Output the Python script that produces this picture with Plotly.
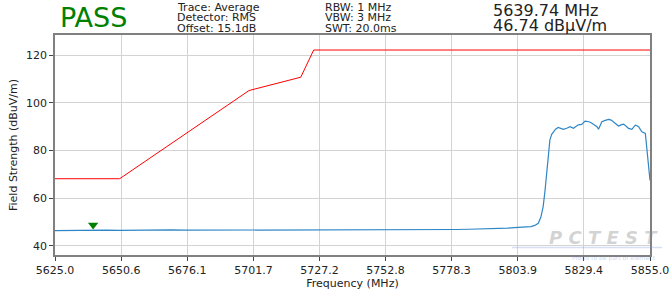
import plotly.graph_objects as go

# ---------------- data ----------------
trace_freq = [5625, 5630, 5635, 5640, 5645, 5650, 5655, 5660, 5665, 5670, 5675, 5680,
              5685, 5690, 5695, 5700, 5705, 5710, 5715, 5720, 5725, 5730, 5735, 5740,
              5745, 5750, 5755, 5760, 5765, 5770, 5775, 5780, 5785, 5790, 5795, 5800,
              5804, 5807, 5809, 5810.5, 5811.8, 5812.8, 5813.7, 5814.4, 5815.0, 5815.7,
              5816.3, 5817.0, 5817.6, 5818.5, 5819.5, 5820.5, 5821.5, 5822.8, 5824.1,
              5825.4, 5826.3, 5827.3, 5828.6, 5829.9, 5831.0, 5831.9, 5833.0, 5833.8,
              5834.5, 5835.1, 5835.8, 5836.4, 5837.7, 5839.0, 5840.0, 5840.9, 5841.8,
              5842.8, 5843.8, 5844.8, 5845.8, 5846.7, 5848.0, 5848.7, 5849.3, 5850.0,
              5850.6, 5851.3, 5851.9, 5853.2, 5853.8, 5854.4, 5855.0]
trace_level = [46.4, 46.5, 46.6, 46.7, 46.6, 46.5, 46.6, 46.5, 46.6, 46.7, 46.6, 46.6,
               46.7, 46.6, 46.7, 46.8, 46.7, 46.7, 46.6, 46.7, 46.7, 46.6, 46.7, 46.6,
               46.7, 46.7, 46.6, 46.7, 46.8, 46.8, 46.9, 46.9, 47.0, 47.1, 47.3, 47.5,
               47.8, 47.9, 48.1, 48.6, 49.5, 52.0, 56.5, 63.0, 70.4, 78.0,
               84.4, 86.8, 87.9, 89.0, 89.7, 89.3, 88.9, 89.4, 90.0,
               89.4, 90.2, 90.8, 91.0, 92.4, 92.2, 91.9, 91.2, 90.7,
               90.0, 89.0, 91.0, 92.1, 92.7, 93.1, 92.8, 92.1, 91.2,
               90.3, 90.8, 91.1, 90.2, 89.3, 88.9, 90.0, 90.7, 90.4,
               90.0, 88.8, 87.9, 87.2, 80.2, 74.0, 67.5]

limit_freq = [5625, 5650, 5700, 5720, 5725, 5855]
limit_level = [68.2, 68.2, 105.2, 110.8, 122.2, 122.2]

marker_freq = 5639.74
marker_level = 46.74

x_ticks = [5625.0, 5650.6, 5676.1, 5701.7, 5727.2, 5752.8, 5778.3, 5803.9, 5829.4, 5855.0]
x_tick_labels = ["5625.0", "5650.6", "5676.1", "5701.7", "5727.2", "5752.8",
                 "5778.3", "5803.9", "5829.4", "5855.0"]
y_ticks = [40, 60, 80, 100, 120]

verdict = "PASS"
info_col1 = ["Trace: Average", "Detector: RMS", "Offset: 15.1dB"]
info_col2 = ["RBW: 1 MHz", "VBW: 3 MHz", "SWT: 20.0ms"]
readout = ["5639.74 MHz", "46.74 dBµV/m"]

# ---------------- layout helpers ----------------
W, H = 669, 292
SL, SR, ST, SB = 55, 650, 35, 255          # plot area in screen pixels
L, T = SL, ST
R = W - SR
B = H - SB
PW, PH = SR - SL, SB - ST


def px(x):
    return (x - SL) / PW


def py(y):
    return (SB - y) / PH


FONT = "DejaVu Sans"

fig = go.Figure()
fig.add_trace(go.Scatter(x=limit_freq, y=limit_level, mode="lines",
                         line=dict(color="#ff0000", width=1), showlegend=False,
                         hoverinfo="skip"))
fig.add_trace(go.Scatter(x=trace_freq, y=trace_level, mode="lines",
                         line=dict(color="#2f86c6", width=1.2), showlegend=False))
fig.add_trace(go.Scatter(x=[marker_freq], y=[marker_level + 2.0], mode="markers",
                         marker=dict(symbol="triangle-down", size=9, color="#008000"),
                         showlegend=False))

ann = []
ann.append(dict(x=px(93), y=py(18), text=verdict, showarrow=False,
                xref="paper", yref="paper", xanchor="center", yanchor="middle",
                font=dict(family=FONT, size=27, color="#008000")))
for i, t in enumerate(info_col1):
    ann.append(dict(x=px(175), y=py(7.5 + 10.5 * i), text=t, showarrow=False,
                    xref="paper", yref="paper", xanchor="left", yanchor="middle",
                    font=dict(family=FONT, size=11, color="#222")))
for i, t in enumerate(info_col2):
    ann.append(dict(x=px(323), y=py(7.5 + 10.5 * i), text=t, showarrow=False,
                    xref="paper", yref="paper", xanchor="left", yanchor="middle",
                    font=dict(family=FONT, size=11, color="#222")))
for i, t in enumerate(readout):
    ann.append(dict(x=px(491), y=py(11 + 14 * i), text=t, showarrow=False,
                    xref="paper", yref="paper", xanchor="left", yanchor="middle",
                    font=dict(family=FONT, size=16, color="#222")))
# watermark
ann.append(dict(x=px(603), y=py(237), text="<b><i>P C T E S T</i></b>", showarrow=False,
                xref="paper", yref="paper", xanchor="center", yanchor="middle",
                font=dict(family=FONT, size=18, color="rgba(140,140,140,0.38)")))
ann.append(dict(x=px(614), y=py(257.5), text="Proud to be part of element", showarrow=False,
                xref="paper", yref="paper", xanchor="center", yanchor="middle",
                font=dict(family=FONT, size=6, color="rgba(120,150,220,0.4)")))

shapes = [dict(type="line", xref="paper", yref="paper", x0=px(512), x1=px(662),
               y0=py(247.5), y1=py(247.5),
               line=dict(color="rgba(120,150,220,0.3)", width=1.5))]

fig.update_layout(
    width=W, height=H,
    margin=dict(l=L, r=R, t=T, b=B, pad=0, autoexpand=False),
    paper_bgcolor="white", plot_bgcolor="white",
    font=dict(family=FONT, size=11, color="#222"),
    annotations=ann,
    shapes=shapes,
    xaxis=dict(range=[5625, 5855], tickvals=x_ticks, ticktext=x_tick_labels,
               showgrid=True, gridcolor="#d3d3d3", gridwidth=1,
               showline=True, linecolor="#808080", linewidth=1.5, mirror=True,
               ticks="outside", ticklen=4, tickcolor="#444", zeroline=False,
               automargin=False, ticklabeloverflow="allow",
               title=dict(text="Frequency (MHz)", standoff=2,
                          font=dict(family=FONT, size=11, color="#222")),
               tickfont=dict(family=FONT, size=11, color="#222")),
    yaxis=dict(range=[36.2, 128.5], tickvals=y_ticks,
               showgrid=True, gridcolor="#d3d3d3", gridwidth=1,
               showline=True, linecolor="#808080", linewidth=1.5, mirror=True,
               ticks="outside", ticklen=4, tickcolor="#444", zeroline=False,
               automargin=False,
               title=dict(text="Field Strength (dBuV/m)", standoff=6,
                          font=dict(family=FONT, size=11, color="#222")),
               tickfont=dict(family=FONT, size=11, color="#222")),
)

fig.write_html("out.html",
               config={"displayModeBar": False},
               post_script="document.body.style.margin='0';"
                           "document.body.style.overflow='hidden';")
